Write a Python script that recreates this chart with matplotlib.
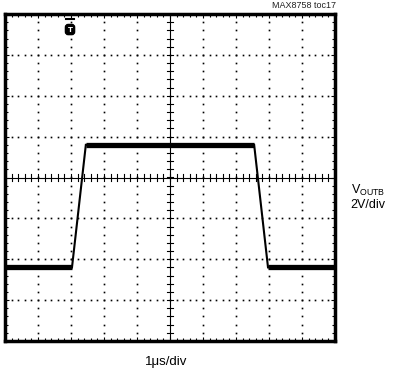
import matplotlib
matplotlib.use("Agg")
import matplotlib.pyplot as plt
import numpy as np
from matplotlib.ticker import MultipleLocator, NullFormatter

# data (time in divisions, voltage in divisions)
t_div = [0.0, 2.03, 2.45, 7.55, 7.97, 10.0]
v_div = [-2.2, -2.2, 0.8, 0.8, -2.2, -2.2]
trig_x = 1.97
title_note = "MAX8758 toc17"
xlabel = "1\u03bcs/div"
ylabel_name = "V$_{\\mathrm{OUTB}}$"
ylabel_scale = "2V/div"

fam = ['Liberation Sans Narrow', 'Liberation Sans', 'DejaVu Sans']
plt.rcParams['font.family'] = fam
plt.rcParams['mathtext.fontset'] = 'custom'
plt.rcParams['mathtext.rm'] = 'Liberation Sans'

fig = plt.figure(figsize=(3.96, 3.78), dpi=100)
ax = fig.add_axes([5/396, 1 - 341/378, 330/396, 327/378])
ax.set_xlim(0, 10)
ax.set_ylim(-4, 4)

# dotted grid
for gx in range(1, 10):
    if gx == 5:
        continue
    ys = np.arange(-4, 4.01, 0.2)
    ax.plot(np.full_like(ys, gx), ys, ls='none', marker='s', ms=1.2, color='black', mew=0)
for gy in range(-3, 4):
    if gy == 0:
        continue
    xs = np.arange(0, 10.01, 0.2)
    ax.plot(xs, np.full_like(xs, gy), ls='none', marker='s', ms=1.2, color='black', mew=0)

# center crosshair with tick marks
ax.axhline(0, color='black', lw=0.8)
ax.axvline(5, color='black', lw=0.8)
for tx in np.arange(0, 10.01, 0.2):
    ax.plot([tx, tx], [-0.08, 0.08], color='black', lw=0.8)
for ty in np.arange(-4, 4.01, 0.2):
    ax.plot([4.9, 5.1], [ty, ty], color='black', lw=0.8)

# trace
ax.plot(t_div, v_div, color='black', lw=1.5, solid_joinstyle='miter')
ax.plot(t_div[0:2], v_div[0:2], color='black', lw=3.8, solid_capstyle='butt')
ax.plot(t_div[2:4], v_div[2:4], color='black', lw=3.8, solid_capstyle='butt')
ax.plot(t_div[4:6], v_div[4:6], color='black', lw=3.8, solid_capstyle='butt')

# trigger marker
ax.plot([trig_x - 0.12, trig_x + 0.12], [3.88, 3.88], color='black', lw=1.5)
ax.text(trig_x, 3.62, "T", color='white', fontsize=5, fontweight='bold',
        ha='center', va='center', family='DejaVu Sans',
        bbox=dict(boxstyle='round,pad=0.3,rounding_size=0.4', fc='black', ec='black'))

# frame
for s in ax.spines.values():
    s.set_linewidth(2.5)
ax.xaxis.set_major_locator(MultipleLocator(1))
ax.yaxis.set_major_locator(MultipleLocator(1))
ax.xaxis.set_minor_locator(MultipleLocator(0.2))
ax.yaxis.set_minor_locator(MultipleLocator(0.2))
ax.xaxis.set_major_formatter(NullFormatter())
ax.yaxis.set_major_formatter(NullFormatter())
ax.tick_params(which='both', direction='in', top=True, right=True, width=0.8)
ax.tick_params(which='major', length=3)
ax.tick_params(which='minor', length=2)

fig.text(336/396, 1 - 5/378, title_note, ha='right', va='center', fontsize=6.5, color='#222222')
fig.text(368/396, 1 - 190/378, ylabel_name, ha='center', va='center', fontsize=9)
fig.text(368/396, 1 - 205/378, ylabel_scale, ha='center', va='center', fontsize=9)
fig.text(166/396, 1 - 362/378, xlabel, ha='center', va='center', fontsize=9.5)

fig.savefig("out.png", dpi=100)
